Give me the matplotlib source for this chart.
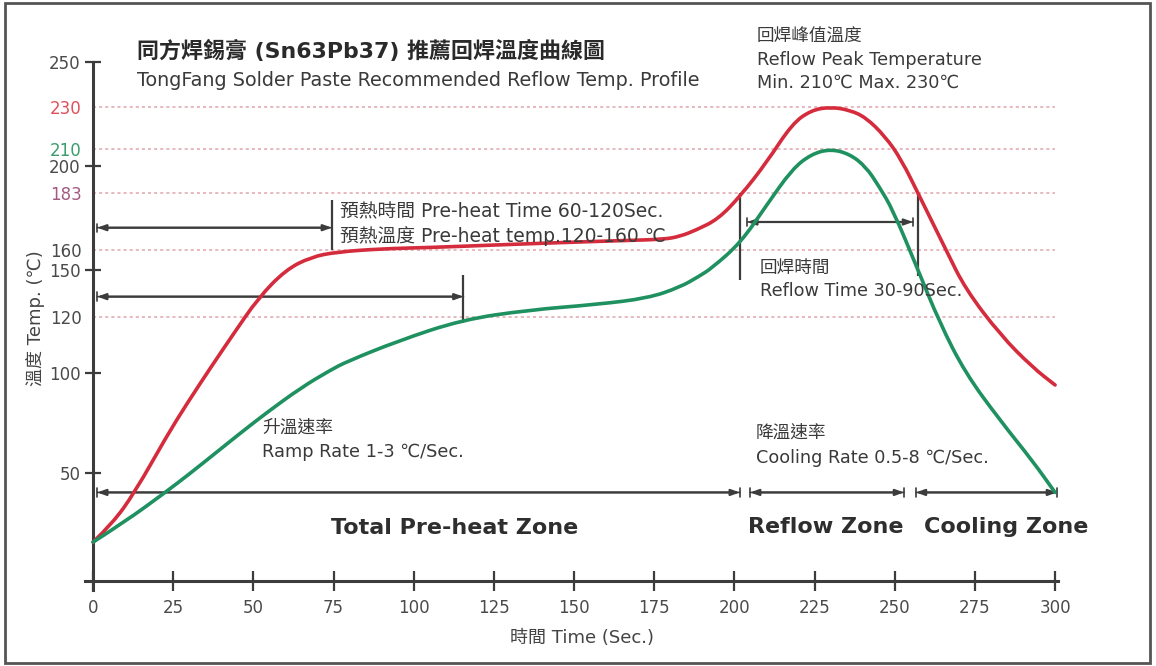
import numpy as np
import matplotlib
matplotlib.use("Agg")
import matplotlib.pyplot as plt
from matplotlib.patches import Rectangle, PathPatch
from matplotlib.path import Path
from matplotlib.ticker import FixedLocator, FixedFormatter

plt.rcParams['font.family'] = ['DejaVu Sans', 'Noto Sans CJK TC']

# red = max profile, green = min profile
time_red = [0, 6, 13, 23, 29, 37, 44, 51.5, 60, 68, 76, 90, 105, 125, 146, 165, 178, 183, 188, 195,
            202, 210, 218, 224, 230, 236, 241, 247, 252, 258, 266, 272, 283, 293, 300]
temp_red = [18, 26.5, 41, 68.5, 84, 102.5, 114.3, 132, 150, 156.5, 159, 160.5, 161, 162, 163, 163.8, 164.3,
            165.5, 168, 172.5, 182, 202, 222, 228.5, 230, 228.5, 225, 216, 204, 181, 160, 138, 113.5, 102, 94]

time_green = [0, 10, 22.5, 30, 39, 46, 54, 65, 74, 79, 95, 115, 136, 157, 173, 183, 189, 193,
              202, 210, 218, 224, 230, 236, 241, 245, 249.5, 257, 264, 272, 283, 293, 300]
temp_green = [18, 27.5, 41, 49.5, 61, 70, 80, 92.8, 101, 104, 111.4, 119, 124.5, 128, 132, 139, 146, 151,
              163, 178, 198, 207, 210, 207, 199.5, 187.5, 176, 151, 118, 100, 76, 56, 41]

x_ticks = [0, 25, 50, 75, 100, 125, 150, 175, 200, 225, 250, 275, 300]
y_ticks = [50, 100, 150, 200, 250]
y_marks = [120, 160, 183, 210, 230]
y_mark_colors = ['#4a4a4a', '#4a4a4a', '#a35a82', '#3b9c6c', '#e0505c']

# the printed axis is not evenly spaced, so follow it with a piecewise scale
knot_val = [-40, 0, 50, 100, 120, 150, 160, 183, 200, 210, 230, 250, 290]
knot_px = [-86, 0, 108, 208, 264, 311, 331, 388, 415, 432, 474, 519, 606]


def fwd(v):
    return np.interp(v, knot_val, knot_px)


def inv(h):
    return np.interp(h, knot_px, knot_val)


W, H = 1156, 666


def fx(px):
    return px / W


def fy(py):
    return 1 - py / H


fig = plt.figure(figsize=(W / 100, H / 100), dpi=100)
ax = fig.add_axes([fx(77), fy(600), 994.1 / W, 560 / H])
ax.set_yscale('function', functions=(fwd, inv))
ax.set_xlim(-5, 305)
ax.set_ylim(float(inv(-19)), float(inv(541)))

axis_col = '#3c3c3c'
for s in ['top', 'right']:
    ax.spines[s].set_visible(False)
ax.spines['left'].set_position(('data', 0))
ax.spines['bottom'].set_position(('data', 0))
ax.spines['left'].set_bounds(float(inv(-9)), 250)
ax.spines['bottom'].set_bounds(-2.5, 301)
for s in ['left', 'bottom']:
    ax.spines[s].set_linewidth(2.2)
    ax.spines[s].set_color(axis_col)

ax.xaxis.set_major_locator(FixedLocator(x_ticks))
ax.set_xticklabels([str(v) for v in x_ticks])
ax.tick_params(axis='x', direction='inout', length=14, width=1.6, color=axis_col,
               labelsize=12, labelcolor='#4a4a4a', pad=6)

ax.yaxis.set_major_locator(FixedLocator(y_ticks))
ax.yaxis.set_major_formatter(FixedFormatter([str(v) for v in y_ticks]))
ax.yaxis.set_minor_locator(FixedLocator(y_marks))
ax.yaxis.set_minor_formatter(FixedFormatter([str(v) for v in y_marks]))
ax.tick_params(axis='y', which='major', direction='inout', length=12, width=1.6, color=axis_col,
               labelsize=12, labelcolor='#4a4a4a', pad=3)
ax.tick_params(axis='y', which='minor', length=0, labelsize=12, pad=8)
for lab, c in zip(ax.yaxis.get_minorticklabels(), y_mark_colors):
    lab.set_color(c)

# dotted guide lines
ax.hlines(y_marks, 0, 300, colors='#dfa6ad', linestyles=(0, (2, 2)), linewidth=1.1, zorder=1)


def smooth_line(xs, ys, color):
    # quadratic curve through the midpoints (taken in scale space), read points are the controls
    xs = np.asarray(xs, float)
    ys = np.asarray(ys, float)
    hs = fwd(ys)
    verts = [(xs[0], ys[0])]
    codes = [Path.MOVETO]
    for i in range(1, len(xs) - 1):
        mx = (xs[i] + xs[i + 1]) / 2
        my = float(inv((hs[i] + hs[i + 1]) / 2))
        verts += [(xs[i], ys[i]), (mx, my)]
        codes += [Path.CURVE3, Path.CURVE3]
    verts.append((xs[-1], ys[-1]))
    codes.append(Path.LINETO)
    ax.add_patch(PathPatch(Path(verts, codes), fill=False, edgecolor=color, linewidth=2.6,
                           capstyle='round', zorder=4))


smooth_line(time_red, temp_red, '#d42c3c')
smooth_line(time_green, temp_green, '#1f9160')

dim_col = '#3c3c3c'


def dim(x0, x1, y):
    ax.annotate('', xy=(x1, y), xytext=(x0, y),
                arrowprops=dict(arrowstyle='<|-|>,head_length=0.5,head_width=0.18',
                                color=dim_col, lw=1.6, shrinkA=0, shrinkB=0), zorder=3)
    ax.annotate('', xy=(x1, y), xytext=(x0, y),
                arrowprops=dict(arrowstyle='|-|,widthA=0.3,widthB=0.3',
                                color=dim_col, lw=1.2, shrinkA=0, shrinkB=0), zorder=3)


dim(1.3, 74.5, 169)
dim(1.3, 115.5, 133)
dim(204, 255.7, 171.3)
dim(1.3, 201.7, 41)
dim(204.9, 252.9, 41)
dim(256.6, 300.6, 41)

ax.vlines([74.5], 160, 180, colors=dim_col, linewidth=1.6, zorder=3)
ax.vlines([115.5], 118, 147, colors=dim_col, linewidth=1.6, zorder=3)
ax.vlines([201.7], 143.6, 183, colors=dim_col, linewidth=1.6, zorder=3)
ax.vlines([257.3], 146, 183, colors=dim_col, linewidth=1.6, zorder=3)

txt = '#3a3a3a'
fig.text(fx(137), fy(51), '同方焊錫膏 (Sn63Pb37) 推薦回焊溫度曲線圖', fontsize=15.8, fontweight='bold',
         color='#2a2a2a', va='center', ha='left')
fig.text(fx(137), fy(81), 'TongFang Solder Paste Recommended Reflow Temp. Profile', fontsize=13.8,
         color=txt, va='center', ha='left')
fig.text(fx(757), fy(37), '回焊峰值溫度', fontsize=12.7, color=txt, va='center', ha='left')
fig.text(fx(757), fy(60), 'Reflow Peak Temperature', fontsize=12.7, color=txt, va='center', ha='left')
fig.text(fx(757), fy(83), 'Min. 210℃ Max. 230℃', fontsize=12.7, color=txt, va='center', ha='left')

fig.text(fx(340), fy(212), '預熱時間 Pre-heat Time 60-120Sec.', fontsize=13.5, color=txt, va='center', ha='left')
fig.text(fx(340), fy(236), '預熱溫度 Pre-heat temp.120-160 ℃', fontsize=13.5, color=txt, va='center', ha='left')
fig.text(fx(760), fy(268), '回焊時間', fontsize=12.7, color=txt, va='center', ha='left')
fig.text(fx(760), fy(291), 'Reflow Time 30-90Sec.', fontsize=12.7, color=txt, va='center', ha='left')
fig.text(fx(262), fy(428), '升溫速率', fontsize=12.8, color=txt, va='center', ha='left')
fig.text(fx(262), fy(452), 'Ramp Rate 1-3 ℃/Sec.', fontsize=12.8, color=txt, va='center', ha='left')
fig.text(fx(756), fy(434), '降溫速率', fontsize=12.7, color=txt, va='center', ha='left')
fig.text(fx(756), fy(458), 'Cooling Rate 0.5-8 ℃/Sec.', fontsize=12.7, color=txt, va='center', ha='left')

fig.text(fx(455), fy(528), 'Total Pre-heat Zone', fontsize=16, fontweight='bold', color='#2e2e2e',
         va='center', ha='center')
fig.text(fx(826), fy(527), 'Reflow Zone', fontsize=16, fontweight='bold', color='#2e2e2e',
         va='center', ha='center')
fig.text(fx(1006), fy(527), 'Cooling Zone', fontsize=16, fontweight='bold', color='#2e2e2e',
         va='center', ha='center')

fig.text(fx(582), fy(638), '時間 Time (Sec.)', fontsize=13, color='#444444', va='center', ha='center')
fig.text(fx(35), fy(318), '溫度 Temp. (℃)', fontsize=13, color='#444444', va='center', ha='center',
         rotation=90)

fig.patches.append(Rectangle((fx(5), fy(663)), (1150 - 5) / W, (663 - 3) / H, transform=fig.transFigure,
                             fill=False, edgecolor='#555555', linewidth=2))

fig.savefig('out.png', dpi=100)
